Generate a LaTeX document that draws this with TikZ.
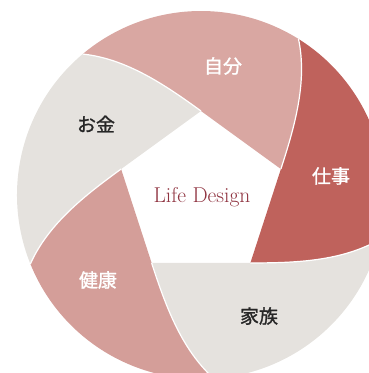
\documentclass[tikz,border=0pt]{standalone}
\usepackage{fontspec}
\newfontfamily\jp[FakeBold=1.2]{Noto Sans CJK JP}
\definecolor{pinkA}{HTML}{D9A7A2}
\definecolor{pinkB}{HTML}{D49E99}
\definecolor{redA}{HTML}{BF625C}
\definecolor{grayA}{HTML}{E5E2DE}
\definecolor{wine}{HTML}{8F3340}
\tikzset{
  lbl/.style={font=\jp\fontsize{19}{19}\selectfont, text=white},
  lbldark/.style={lbl, text=black!85},
}
\begin{document}
\begin{tikzpicture}[x=1pt,y=1pt]
        \useasboundingbox (-201,-178) rectangle (168,195);
        \clip (-201,-178) rectangle (168,195);
        % Corners and rim points
        \foreach \i in {0,...,4} {
          \coordinate (v\i) at ({90-72*\i}:84pt);
          \coordinate (e\i) at ({130-72*\i}:184pt);
        }
        % Blades
        \foreach \i/\c in {0/pinkA,1/redA,2/grayA,3/pinkB,4/grayA} {
          \pgfmathtruncatemacro{\j}{mod(\i+1,5)}
          \pgfmathsetmacro{\a}{90-72*\i}
          \pgfmathsetmacro{\b}{\a-72}
          \fill[\c] (v\i) -- (v\j) .. controls +({\b+54}:44pt) and +({\b+264}:44pt) .. (e\j)
            arc[start angle=\b+40, end angle=\a+40, radius=184pt]
            .. controls +({\a+264}:44pt) and +({\a+54}:44pt) .. (v\i) -- cycle;
        }
        % Seams
        \foreach \i in {0,...,4} {
          \pgfmathsetmacro{\a}{90-72*\i}
          \draw[white, line width=1.2pt] (v\i) .. controls +({\a+54}:44pt) and +({\a+264}:44pt) .. (e\i);
        }
        % Nodes
        \node[lbl] (jibun) at (22,129) {自分};
        \node[lbl] (shigoto) at (130,19) {仕事};
        \node[lbldark] (kazoku) at (58,-121) {家族};
        \node[lbl] (kenkou) at (-103,-85) {健康};
        \node[lbldark] (okane) at (-105,71) {お金};
        \node[text=wine, font=\fontsize{21.5}{21.5}\selectfont] (life) at (1,-2) {Life Design};

    \end{tikzpicture}
\end{document}
